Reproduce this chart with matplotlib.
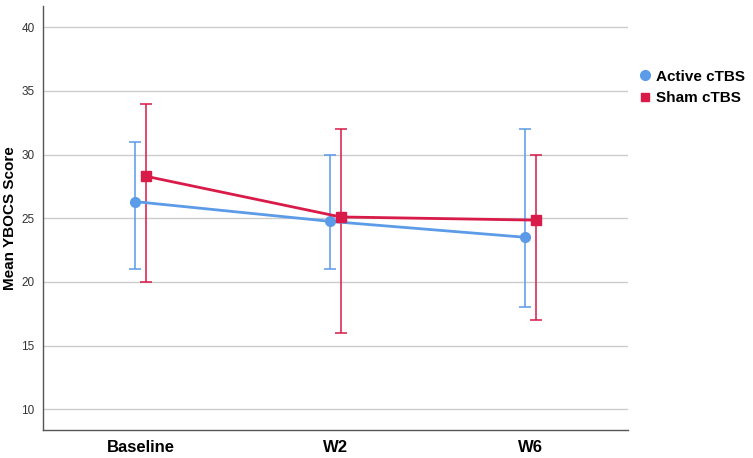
import matplotlib
matplotlib.use("Agg")
import matplotlib.pyplot as plt
from matplotlib.lines import Line2D
import numpy as np

plt.rcParams["font.family"] = ["Liberation Sans", "DejaVu Sans"]

# data
timepoints = ["Baseline", "W2", "W6"]
active_mean = [26.3, 24.75, 23.5]
active_low = [21, 21, 18]
active_high = [31, 30, 32]
sham_mean = [28.3, 25.1, 24.85]
sham_low = [20, 16, 17]
sham_high = [34, 32, 30]

blue = "#5b9be8"
red = "#d81b48"

fig = plt.figure(figsize=(7.53, 4.58), dpi=100)
ax = fig.add_axes([0.0571, 0.0611, 0.777, 0.926])

x = np.arange(len(timepoints))
off = 0.026

def draw(xs, mean, low, high, color, marker, ms):
    mean = np.array(mean)
    err = [mean - np.array(low), np.array(high) - mean]
    ax.errorbar(xs, mean, yerr=err, fmt="none", ecolor=color, elinewidth=1.3,
                capsize=4, capthick=1.3, alpha=0.85, zorder=2)
    ax.plot(xs, mean, color=color, lw=2, marker=marker, ms=ms, zorder=3)

draw(x - off, active_mean, active_low, active_high, blue, "o", 7)
draw(x + off, sham_mean, sham_low, sham_high, red, "s", 6.5)

ax.set_xlim(-0.5, 2.5)
ax.set_ylim(8.37, 41.67)
ax.set_yticks([10, 15, 20, 25, 30, 35, 40])
ax.set_xticks(x)
ax.set_xticklabels(timepoints, fontsize=12, fontweight="bold")
ax.tick_params(axis="y", length=0, labelsize=8.5, pad=6, colors="#333333")
ax.tick_params(axis="x", length=0, pad=7)
ax.grid(axis="y", color="#cccccc", lw=1)
ax.set_axisbelow(True)
for s in ["top", "right"]:
    ax.spines[s].set_visible(False)
for s in ["left", "bottom"]:
    ax.spines[s].set_color("#555555")
    ax.spines[s].set_linewidth(1)
ax.set_ylabel("Mean YBOCS Score", fontsize=11, fontweight="bold")
ax.yaxis.set_label_coords(-0.044, 0.5)

handles = [
    Line2D([], [], color=blue, marker="o", ls="none", ms=7),
    Line2D([], [], color=red, marker="s", ls="none", ms=6),
]
fig.legend(handles, ["Active cTBS", "Sham cTBS"], loc="upper left",
           bbox_to_anchor=(0.826, 0.878), frameon=False, handletextpad=0.1,
           handlelength=1.2, labelspacing=0.5,
           prop={"size": 11, "weight": "bold"})

fig.savefig("out.png", dpi=100)
